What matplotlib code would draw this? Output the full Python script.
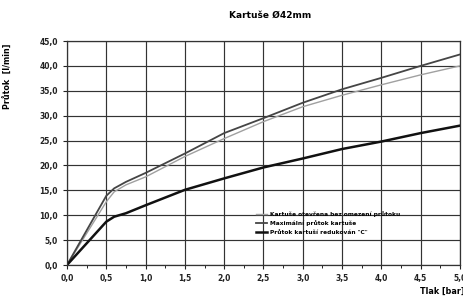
import numpy as np
import matplotlib
matplotlib.use('Agg')
import matplotlib.pyplot as plt
from matplotlib.ticker import MultipleLocator, FuncFormatter

# pressure [bar]
tlak = [0.0, 0.5, 0.6, 0.75, 1.0, 1.5, 2.0, 2.5, 3.0, 3.5, 4.0, 4.5, 5.0]
# flow [l/min]
otevrena = [0.0, 12.7, 14.7, 16.1, 17.7, 21.8, 25.4, 28.8, 31.8, 34.1, 36.2, 38.2, 40.0]
maximalni = [0.0, 13.9, 15.4, 16.7, 18.5, 22.4, 26.5, 29.5, 32.6, 35.3, 37.6, 40.0, 42.3]
redukovany = [0.0, 8.7, 9.7, 10.4, 12.0, 15.1, 17.4, 19.6, 21.4, 23.3, 24.8, 26.5, 28.0]

labels = ['Kartuše otevřena bez omezení průtoku',
          'Maximální průtok kartuše',
          'Průtok kartuší redukován "C"']

plt.rcParams['font.family'] = 'DejaVu Sans'
plt.rcParams['font.weight'] = 'bold'

fig = plt.figure(figsize=(4.64, 2.97), dpi=100)
ax = fig.add_axes([67/464, 32/297, 393/464, 224/297])

ax.plot(tlak, otevrena, color='#a0a0a0', lw=1.0, label=labels[0])
ax.plot(tlak, maximalni, color='#454545', lw=1.3, label=labels[1])
ax.plot(tlak, redukovany, color='#111111', lw=1.8, label=labels[2])

ax.set_xlim(0, 5)
ax.set_ylim(0, 45)
ax.xaxis.set_major_locator(MultipleLocator(0.5))
ax.xaxis.set_minor_locator(MultipleLocator(0.25))
ax.yaxis.set_major_locator(MultipleLocator(5))
fmt = FuncFormatter(lambda v, p: f'{v:.1f}'.replace('.', ','))
ax.xaxis.set_major_formatter(fmt)
ax.yaxis.set_major_formatter(fmt)
ax.tick_params(axis='both', labelsize=5.5, length=3, width=0.8, colors='#222222')
ax.tick_params(axis='x', which='minor', length=2, width=0.6)
ax.grid(True, which='major', color='#333333', lw=0.85)
for s in ax.spines.values():
    s.set_color('#333333')
    s.set_linewidth(0.9)

leg = ax.legend(loc='upper left', bbox_to_anchor=(0.47, 0.26), frameon=False,
                fontsize=4.2, handlelength=2.0, handletextpad=0.4,
                labelspacing=0.65, borderpad=0.2)

fig.text(270/464, 1 - 15/297, 'Kartuše Ø42mm', ha='center', va='center',
         fontsize=6.5, fontweight='bold')
fig.text(8/464, 1 - 76/297, 'Průtok  [l/min]', rotation=90, ha='center',
         va='center', fontsize=5.8, fontweight='bold')
fig.text(420/464, 1 - 291/297, 'Tlak [bar]', ha='left', va='center',
         fontsize=5.8, fontweight='bold')

fig.savefig('out.png', dpi=100)
